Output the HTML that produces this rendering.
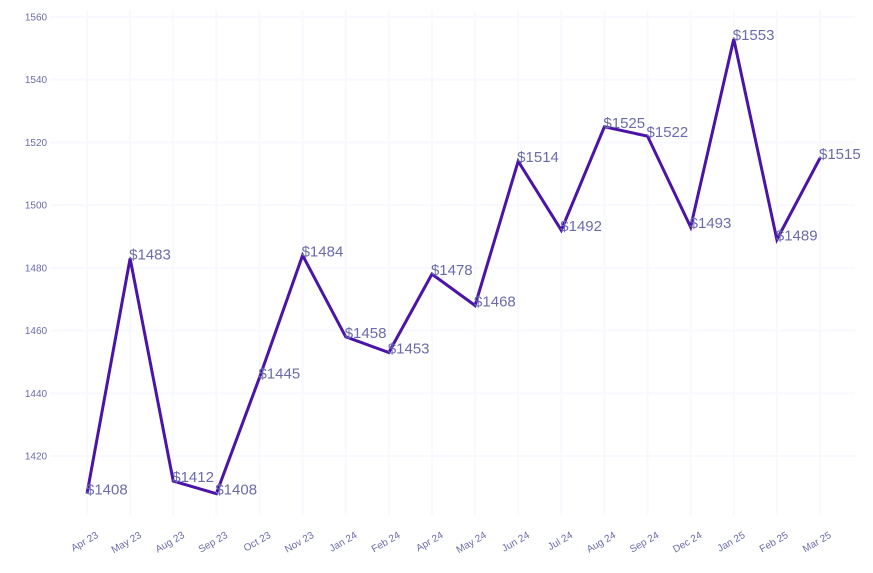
<!DOCTYPE html>
<html><head><meta charset="utf-8"><style>
body{margin:0;background:#fff;}
svg{font-family:"Liberation Sans",sans-serif;}
</style></head><body>
<svg id="c" width="873" height="568"></svg>
<script>
const categories=["Apr 23","May 23","Aug 23","Sep 23","Oct 23","Nov 23","Jan 24","Feb 24","Apr 24","May 24","Jun 24","Jul 24","Aug 24","Sep 24","Dec 24","Jan 25","Feb 25","Mar 25"];
const values=[1408,1483,1412,1408,1445,1484,1458,1453,1478,1468,1514,1492,1525,1522,1493,1553,1489,1515];
const yTicks=[1420,1440,1460,1480,1500,1520,1540,1560];
const NS="http://www.w3.org/2000/svg";
const svg=document.getElementById('c');
const x=i=>87+i*(820-87)/(categories.length-1);
const y=v=>456-(v-1420)*(456-17)/140;
function mk(t,a,p){const e=document.createElementNS(NS,t);for(const k in a)e.setAttribute(k,a[k]);(p||svg).appendChild(e);return e;}
const g=mk('g',{});


yTicks.forEach(t=>{
  mk('line',{x1:50,x2:855,y1:y(t),y2:y(t),stroke:'#f8f8ff','stroke-width':2},g);
  const tx=mk('text',{x:36,y:y(t)+3.5,'text-anchor':'middle','font-size':10,fill:'#6b6bab'});
  tx.textContent=t;
  
  
});
categories.forEach((c,i)=>{
  mk('line',{x1:x(i),x2:x(i),y1:10,y2:515,stroke:'#f8f8ff','stroke-width':2},g);
  const tx=mk('text',{transform:`translate(${x(i)+12},${537}) rotate(-30)`,'text-anchor':'end','font-size':10,fill:'#6b6bab'});
  tx.textContent=c;
  
  
});
const line=mk('polyline',{points:values.map((v,i)=>x(i)+','+y(v)).join(' '),fill:'none',stroke:'#4a14a8','stroke-width':3,'stroke-linejoin':'miter'});


values.forEach((v,i)=>{
  const tx=mk('text',{x:x(i)-1,y:y(v)+1,'font-size':15,fill:'#6b6bab'});
  tx.textContent='$'+v;
  
  
});
</script>
</body></html>
